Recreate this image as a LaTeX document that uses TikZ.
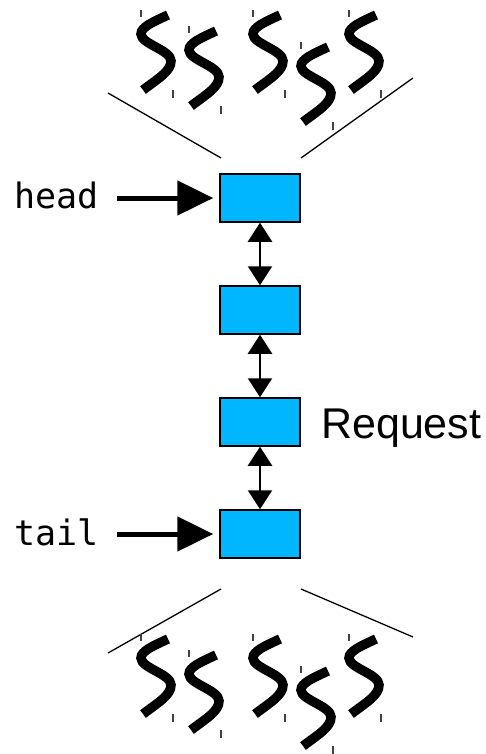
\documentclass[tikz,border=0pt]{standalone}
\usepackage{fontspec}
\setmainfont{Liberation Sans}
\newfontfamily\monof{DejaVu Sans Mono}
\usetikzlibrary{arrows.meta}
\definecolor{boxblue}{RGB}{0,183,255}
\tikzset{
  qbox/.style={draw=black, line width=1.5pt, fill=boxblue, minimum width=80pt, minimum height=48pt, inner sep=0pt},
  dbl/.style={line width=2.2pt, {Triangle[length=19pt,width=24pt]}-{Triangle[length=19pt,width=24pt]}},
  ptr/.style={line width=5pt, -{Triangle[length=36pt,width=34pt]}, shorten >=6pt},
  edgeline/.style={line width=1.3pt},
  squigline/.style={line width=9.5pt, line cap=butt},
  tick/.style={line width=1.1pt, black!75},
  lbl/.style={inner sep=0pt, anchor=base west, font=\monof\fontsize{35}{35}\selectfont},
  squig/.pic={
    \draw[squigline] (27,2) .. controls (12,9) and (0,14) .. (0,21)
       .. controls (0,31) and (30,37) .. (30,48)
       .. controls (30,58) and (18,65) .. (2,77);
    \draw[tick] (0,-3) -- (0,4);
    \draw[tick] (32,77) -- (32,85);
  }
}
\begin{document}
\begin{tikzpicture}[x=1pt,y=-1pt]
\useasboundingbox (0,0) rectangle (485,754);
% boxes
\node[qbox] (b1) at (260,198) {};
\node[qbox] (b2) at (260,310) {};
\node[qbox] (b3) at (260,422) {};
\node[qbox] (b4) at (260,534) {};
\draw[dbl] (b1) -- (b2);
\draw[dbl] (b2) -- (b3);
\draw[dbl] (b3) -- (b4);
% labels
\node[lbl] (headlbl) at (14,208) {head};
\node[lbl] (taillbl) at (14,545) {tail};
\coordinate (hstart) at (117,198);
\coordinate (tstart) at (117,534);
\draw[ptr] (hstart) -- (b1.west);
\draw[ptr] (tstart) -- (b4.west);
\node[inner sep=0pt, anchor=base west, font=\fontsize{43}{43}\selectfont] (req) at (321,438) {Request};
% fan lines
\coordinate (tl1) at (108,93); \coordinate (tl2) at (221,158);
\coordinate (tr1) at (301,158); \coordinate (tr2) at (413,78);
\coordinate (bl1) at (108,653); \coordinate (bl2) at (221,589);
\coordinate (br1) at (301,589); \coordinate (br2) at (413,637);
\draw[edgeline] (tl1) -- (tl2);
\draw[edgeline] (tr1) -- (tr2);
\draw[edgeline] (bl1) -- (bl2);
\draw[edgeline] (br1) -- (br2);
% squiggles top and bottom
\foreach \x/\y in {141/13, 189/29, 253/13, 301/45, 349/13} {
  \pic at (\x,\y) {squig};
  \pic at (\x,\y+624) {squig};
}
\end{tikzpicture}
\end{document}
